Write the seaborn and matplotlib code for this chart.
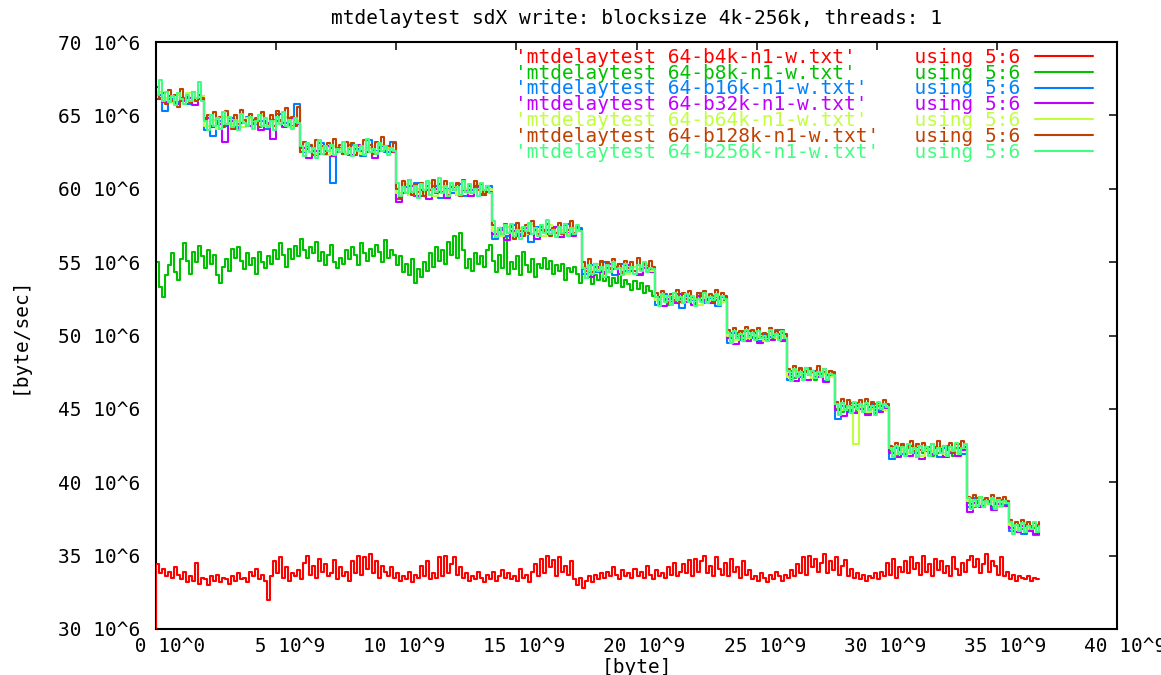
import numpy as np
import pandas as pd
import matplotlib
matplotlib.use("Agg")
import matplotlib.pyplot as plt
from matplotlib.ticker import FixedLocator, FuncFormatter
from matplotlib.transforms import ScaledTranslation
import seaborn as sns

# Throughput samples in units of 1e6 byte/sec against bytes written.
files = [
    "mtdelaytest 64-b4k-n1-w.txt",
    "mtdelaytest 64-b8k-n1-w.txt",
    "mtdelaytest 64-b16k-n1-w.txt",
    "mtdelaytest 64-b32k-n1-w.txt",
    "mtdelaytest 64-b64k-n1-w.txt",
    "mtdelaytest 64-b128k-n1-w.txt",
    "mtdelaytest 64-b256k-n1-w.txt",
]
colors = ["#ff0000", "#00c000", "#0080ff", "#c000ff", "#c0ff40", "#c04000", "#40ff80"]
# bytes between two samples of each file
sample_step = [0.125e9, 0.125e9, 0.25e9, 0.25e9, 0.25e9, 0.125e9, 0.125e9]

b4k = [
    29.0, 34.4, 33.8, 34.1, 33.6, 33.9, 33.5, 34.2, 33.7, 33.4,
    33.9, 33.2, 33.6, 33.3, 34.5, 33.1, 33.5, 33.4, 33.0, 33.6,
    33.3, 33.7, 33.2, 33.5, 33.4, 33.1, 33.6, 33.3, 33.8, 33.4,
    33.5, 33.2, 33.9, 33.6, 34.1, 33.4, 33.7, 33.3, 32.0, 33.6,
    34.6, 33.8, 34.9, 33.5, 34.2, 33.3, 33.8, 33.6, 34.0, 33.4,
    34.5, 35.0, 33.7, 34.3, 33.5, 34.8, 33.9, 34.4, 33.6, 33.8,
    34.7, 33.4, 34.2, 33.6, 33.9, 33.3, 34.6, 33.8, 35.0, 33.7,
    34.9, 34.1, 35.1, 33.8, 34.6, 33.5, 34.3, 33.9, 33.6, 34.2,
    33.5, 33.8, 33.3, 33.6, 33.4, 33.9, 33.2, 33.7, 33.5, 34.3,
    33.6, 34.6, 33.4, 33.8, 33.5, 34.9, 33.6, 35.0, 33.8, 34.4,
    34.9, 33.7, 34.2, 33.5, 33.8, 33.3, 33.6, 33.4, 33.9, 33.5,
    33.2, 33.7, 33.4, 33.9, 33.3, 33.6, 34.0, 33.5, 33.8, 33.4,
    33.6, 33.3, 34.1, 33.5, 33.7, 33.2, 33.9, 34.4, 33.6, 34.8,
    33.8, 35.0, 34.2, 34.7, 33.6, 34.9, 33.9, 34.3, 33.7, 34.6,
    33.4, 33.0, 33.5, 32.8, 33.3, 33.6, 33.2, 33.7, 33.4, 33.8,
    33.5, 33.9, 33.6, 34.2, 33.7, 33.4, 34.0, 33.6, 33.8, 33.5,
    34.1, 33.6, 33.9, 33.5, 34.3, 33.7, 33.4, 34.0, 33.6, 33.8,
    33.5, 34.2, 33.7, 34.5, 33.6, 33.9, 34.4, 33.8, 34.7, 33.6,
    34.8, 33.9, 34.6, 35.0, 33.8, 34.3, 33.6, 34.9, 34.1, 33.7,
    34.5, 33.6, 34.8, 33.9, 34.2, 33.5, 34.6, 33.7, 34.0, 33.4,
    33.6, 33.3, 33.8, 33.5, 33.2, 33.7, 33.4, 33.9, 33.6, 33.3,
    33.7, 33.5, 34.0, 33.6, 34.4, 33.8, 34.9, 33.7, 35.0, 34.2,
    34.8, 33.9, 34.5, 35.1, 33.8, 34.6, 34.0, 34.9, 33.7, 34.3,
    34.7, 33.6, 34.1, 33.5, 33.8, 33.4, 33.7, 33.3, 33.6, 33.5,
    33.8, 33.4, 33.9, 33.6, 34.5, 33.7, 34.8, 33.5, 34.2, 33.9,
    34.6, 33.8, 34.9, 34.1, 34.5, 33.7, 35.0, 33.9, 34.4, 33.6,
    34.8, 34.0, 34.6, 33.8, 34.3, 33.6, 34.9, 34.1, 33.7, 34.5,
    33.9, 34.7, 35.0, 34.2, 34.8, 33.8, 34.4, 35.1, 33.9, 34.6,
    34.3, 33.7, 34.9, 33.6, 33.9, 33.4, 33.7, 33.3, 33.6, 33.5,
    33.4, 33.6, 33.3, 33.5, 33.4,
]

b8k = [
    55.0, 53.3, 52.6, 54.1, 54.8, 55.6, 54.3, 53.8, 55.2, 56.3,
    55.1, 54.2, 55.7, 55.0, 56.1, 55.4, 54.6, 55.8, 54.9, 55.5,
    54.1, 53.6, 54.7, 55.2, 54.4, 55.9, 55.3, 56.0, 55.1, 54.5,
    55.6, 54.8, 55.3, 54.2, 55.7, 55.0, 54.6, 55.4, 54.9, 55.8,
    55.2, 56.3, 55.5, 54.7, 55.9, 55.2, 56.1, 55.4, 56.6, 55.8,
    55.3, 56.0, 55.6, 56.4, 55.1, 55.7, 54.8, 55.5, 56.2, 55.0,
    54.6, 55.3, 54.9, 55.8, 55.2, 56.0, 55.5, 54.8, 56.3, 55.6,
    55.1, 55.9, 55.4, 56.2, 55.7, 55.0, 56.5, 55.3, 55.8, 55.5,
    54.8, 55.4, 54.3, 54.9, 54.1, 55.2, 53.6, 54.5, 54.0, 55.0,
    54.4, 55.6, 54.7, 56.0, 55.1, 55.8, 54.9, 56.4, 55.5, 56.8,
    55.3, 57.0, 55.8, 54.6, 55.2, 54.4, 55.6, 54.9, 55.4, 54.7,
    55.8, 56.2, 55.1, 54.3, 55.5, 54.6, 56.7, 54.2, 55.0, 54.5,
    55.4, 54.1, 55.7, 54.8, 54.3, 55.2, 54.0, 54.9, 54.6, 55.3,
    54.5, 55.1, 54.2, 54.8, 54.4, 54.9, 53.8, 54.6, 54.3, 54.7,
    54.2, 53.6, 54.5, 53.9, 54.3, 53.5, 54.1, 53.8, 54.4, 53.7,
    54.0, 53.4, 53.9, 53.6, 54.2, 53.3, 53.8, 53.5, 53.1, 53.7,
    53.2, 53.6, 52.9, 53.4, 53.0, 52.7,
    52.6, 52.2, 52.7, 52.4, 52.1, 52.6, 52.3, 52.8, 52.5, 52.2, 52.7, 52.4,
    52.6, 52.1, 52.5, 52.8, 52.3, 52.6, 52.2, 52.7, 52.4, 52.5, 52.3, 52.6,
    49.9, 50.2, 49.7, 50.1, 49.8, 50.3, 49.6, 50.0, 49.9, 50.2,
    49.8, 50.1, 49.7, 50.0, 50.3, 49.8, 50.1, 49.9, 50.2, 49.8,
    47.3, 47.6, 47.1, 47.4, 47.7, 47.2, 47.5, 47.3,
    47.6, 47.0, 47.4, 47.2, 47.5, 47.3, 47.6, 47.2,
    45.0, 45.3, 44.8, 45.2, 44.9, 45.4, 45.1, 44.8, 45.2,
    45.0, 45.3, 44.9, 45.1, 44.7, 45.2, 45.0, 45.3, 45.1,
    42.1, 42.4, 41.8, 42.2, 42.5, 41.9, 42.3, 42.0, 42.4, 41.7, 42.2, 42.0, 42.3,
    42.1, 41.8, 42.4, 42.0, 42.2, 41.9, 42.5, 42.1, 41.8, 42.3, 42.0, 42.2, 42.4,
    38.6, 38.9, 38.3, 38.7, 38.4, 38.8, 38.5,
    38.7, 38.3, 38.6, 38.9, 38.4, 38.7, 38.5,
    36.9, 37.1, 36.6, 37.0, 36.8, 37.2, 36.7, 37.0, 36.9, 37.1, 36.8,
]

b16k = [
    66.4, 65.3, 66.1, 65.9, 66.2, 65.8, 66.0, 66.3,
    64.0, 63.6, 64.6, 64.3, 64.8, 64.2, 64.5, 64.9, 64.4, 64.6, 64.1, 64.7, 65.1, 64.5, 64.3, 65.8,
    62.5, 62.9, 62.3, 63.1, 62.6, 60.4, 62.8, 62.4, 63.0, 62.7, 62.2, 63.3, 62.6, 62.9, 62.5, 63.2,
    59.3, 60.1, 59.6, 60.4, 59.5, 59.9, 60.2, 59.4, 60.0, 59.7, 60.3, 59.5, 59.9, 60.1, 59.6, 60.2,
    56.6, 57.3, 56.8, 57.5, 56.9, 57.1, 56.4, 57.4, 56.8, 57.2, 57.0, 56.7, 57.6, 56.9, 57.3,
    54.2, 54.8, 54.3, 55.0, 54.6, 54.1, 54.9, 54.4, 54.7, 54.2, 54.8, 54.5,
    52.1, 52.8, 52.3, 52.6, 51.9, 52.7, 52.4, 52.9, 52.2, 52.5, 52.0, 52.6,
    49.5, 50.2, 49.7, 50.3, 49.8, 49.6, 50.1, 49.9, 50.4, 49.7,
    47.0, 47.6, 47.2, 47.8, 47.1, 47.5, 46.9, 47.4,
    44.3, 45.2, 44.8, 45.4, 45.0, 44.7, 45.3, 44.9, 45.1,
    41.6, 42.3, 41.9, 42.5, 42.0, 41.8, 42.4, 42.1, 41.7, 42.3, 42.0, 42.6, 41.9,
    38.3, 38.9, 38.4, 38.7, 38.2, 38.8, 38.5,
    36.7, 37.1, 36.5, 37.0, 36.4, 36.9,
]

b32k = [
    66.1, 65.9, 66.3, 65.8, 66.0, 66.2, 65.7, 66.1,
    64.8, 64.2, 64.4, 63.2, 64.6, 64.1, 64.5, 64.3, 64.7, 64.0, 64.5, 63.4, 64.6, 64.2, 64.8, 64.4,
    62.8, 62.1, 62.6, 62.4, 62.9, 62.2, 62.7, 62.5, 62.3, 63.0, 62.4, 62.8, 62.1, 62.6, 62.9, 62.5,
    59.1, 59.7, 60.2, 59.5, 59.9, 59.3, 60.0, 59.8, 59.4, 60.1, 59.6, 59.9, 59.5, 60.2, 59.7, 59.8,
    56.9, 57.2, 56.5, 57.1, 56.8, 57.3, 56.9, 56.6, 57.2, 56.9, 57.4, 56.7, 57.0, 56.8, 57.1,
    54.6, 54.0, 54.7, 54.3, 54.9, 54.5, 54.2, 54.8, 54.4, 54.1, 54.6, 54.3,
    52.6, 52.0, 52.5, 52.2, 52.8, 52.3, 52.1, 52.7, 52.4, 52.2, 52.6, 52.3,
    49.8, 49.4, 50.0, 49.6, 50.2, 49.5, 49.9, 49.7, 50.1, 49.6,
    47.4, 46.9, 47.5, 47.0, 47.6, 47.2, 46.8, 47.3,
    44.9, 44.5, 45.2, 44.7, 45.0, 44.6, 45.1, 44.8, 45.0,
    42.0, 41.7, 42.2, 41.8, 42.4, 41.6, 42.1, 41.9, 42.3, 41.7, 42.0, 41.8, 42.2,
    38.0, 38.6, 38.3, 38.7, 38.1, 38.5, 38.4,
    36.9, 36.6, 37.0, 36.7, 36.5, 36.8,
]

b64k = [
    66.6, 66.2, 65.9, 66.4, 66.1, 66.5, 66.0, 66.3,
    64.3, 64.7, 64.1, 64.9, 64.4, 64.6, 64.2, 64.8, 64.5, 65.0, 64.3, 64.6, 64.4, 64.9, 64.2, 64.6,
    62.6, 63.0, 62.4, 62.8, 62.3, 62.9, 62.7, 62.5, 63.1, 62.6, 62.4, 62.8, 62.5, 63.0, 62.7, 62.6,
    59.7, 60.3, 59.6, 60.0, 59.8, 60.4, 59.5, 60.1, 59.9, 60.2, 59.6, 60.0, 59.7, 60.3, 59.8, 60.0,
    57.1, 56.8, 57.4, 57.0, 57.3, 56.9, 57.6, 57.1, 56.8, 57.5, 57.0, 57.2, 56.9, 57.3, 57.1,
    54.7, 54.4, 54.9, 54.5, 54.3, 54.8, 54.6, 54.2, 54.7, 54.5, 54.9, 54.4,
    52.4, 52.7, 52.2, 52.6, 52.3, 52.8, 52.5, 52.1, 52.6, 52.4, 52.7, 52.3,
    50.0, 49.7, 50.2, 49.8, 50.3, 49.9, 49.6, 50.1, 49.8, 50.0,
    47.2, 47.6, 47.3, 47.7, 47.1, 47.5, 47.4, 47.2,
    45.3, 44.9, 45.1, 42.6, 45.2, 44.8, 45.0, 45.3, 44.9,
    42.3, 41.9, 42.2, 42.0, 42.5, 41.8, 42.2, 42.1, 42.4, 41.9, 42.2, 42.0, 42.3,
    38.7, 38.4, 38.9, 38.5, 38.8, 38.3, 38.6,
    37.1, 36.8, 37.2, 36.9, 37.0, 36.8,
]

b128k = [
    66.9, 66.2, 66.5, 65.8, 66.7, 66.0, 66.4, 65.6, 66.8, 66.1, 66.3, 65.9, 66.6, 66.0, 66.4, 66.2,
    64.7, 65.0, 64.3, 65.2, 64.5, 64.9, 64.2, 65.3, 64.6, 64.1, 65.0, 64.4, 65.4, 64.7, 64.3, 65.1,
    64.5, 64.8, 64.2, 65.2, 64.6, 64.4, 65.0, 64.3, 65.3, 64.7, 64.5, 65.5, 64.4, 64.9, 64.3, 65.6,
    62.5, 63.2, 62.7, 63.0, 62.3, 63.3, 62.6, 62.9, 62.4, 63.1, 62.8, 63.4, 62.5, 63.0, 62.4, 63.2,
    62.7, 63.1, 62.3, 62.9, 62.6, 63.3, 62.5, 63.0, 62.4, 63.2, 62.8, 63.5, 62.6, 62.9, 62.5, 63.1,
    60.0, 59.4, 60.5, 59.7, 60.6, 59.6, 60.3, 59.8, 60.4, 59.5, 60.2, 59.9, 60.6, 59.7, 60.3, 59.8,
    60.5, 59.6, 60.1, 59.9, 60.4, 59.5, 60.6, 59.8, 60.2, 59.7, 60.5, 59.9, 60.3, 59.6, 60.1, 59.8,
    57.5, 56.7, 57.3, 56.9, 57.6, 57.0, 57.4, 56.6, 57.7, 57.1, 56.8, 57.5, 57.0, 57.8, 57.2, 56.9,
    57.4, 57.1, 57.6, 56.8, 57.3, 57.0, 57.7, 56.9, 57.5, 57.2, 57.8, 57.0, 57.4, 57.2,
    55.0, 54.4, 55.2, 54.3, 54.9, 54.6, 55.1, 54.2, 55.0, 54.5, 55.2, 54.7, 54.9, 54.3, 55.1, 54.6,
    55.0, 54.4, 55.3, 54.5, 54.9, 54.6, 55.1, 54.7,
    52.9, 52.3, 53.0, 52.5, 52.2, 52.8, 52.4, 53.1, 52.3, 52.9, 52.5, 53.0, 52.6, 52.2, 52.9, 52.4,
    53.0, 52.5, 52.8, 52.3, 53.1, 52.6, 52.9, 52.7,
    50.4, 49.8, 50.5, 49.9, 50.3, 49.7, 50.6, 50.0, 50.4, 49.8, 50.5, 49.9, 50.2, 49.7, 50.5, 50.0,
    50.3, 49.8, 50.4, 50.1,
    47.7, 47.2, 47.9, 47.4, 47.8, 47.3, 47.6, 47.7, 47.5, 47.2, 47.9, 47.4, 47.7, 47.3, 47.6, 47.5,
    45.5, 45.0, 45.7, 45.1, 45.6, 44.9, 45.4, 45.2, 45.6, 45.0, 45.7, 45.1, 45.5, 44.9, 45.4, 45.2,
    45.6, 45.3,
    42.5, 42.0, 42.7, 42.2, 42.6, 41.9, 42.4, 42.8, 42.1, 42.6, 42.2, 42.7, 42.4, 42.0, 42.6, 42.3,
    42.8, 42.1, 42.5, 42.2, 42.7, 42.0, 42.6, 42.3, 42.8, 42.4,
    39.0, 38.5, 39.1, 38.6, 39.0, 38.4, 38.9, 38.6, 39.1, 38.5, 38.9, 38.4, 39.0, 38.7,
    37.4, 36.9, 37.3, 37.0, 37.4, 37.1, 37.3, 36.9, 37.2, 37.0, 37.3,
]

b256k = [
    66.4, 67.4, 66.0, 66.6, 65.9, 66.3, 65.7, 66.5, 66.1, 65.8, 66.4, 66.0, 66.6, 66.2, 67.3, 66.0,
    64.6, 64.0, 65.0, 64.3, 64.8, 64.1, 65.2, 64.4, 64.9, 64.2, 64.7, 64.0, 65.1, 64.5, 64.3, 64.9,
    64.1, 64.6, 65.0, 64.3, 64.8, 64.2, 64.6, 64.0, 64.9, 64.4, 65.2, 64.3, 64.7, 64.1, 64.8, 64.5,
    62.9, 62.2, 63.1, 62.5, 62.8, 62.1, 63.3, 62.4, 62.9, 62.6, 63.0, 62.3, 62.7, 62.5, 63.2, 62.4,
    62.8, 62.2, 63.0, 62.6, 62.9, 62.3, 63.4, 62.5, 62.7, 62.4, 63.1, 62.6, 62.9, 62.3, 62.8, 62.6,
    60.4, 59.5, 60.1, 59.7, 60.6, 59.8, 60.2, 59.4, 60.3, 59.9, 60.5, 59.6, 60.0, 59.8, 60.7, 59.7,
    60.2, 59.5, 60.4, 59.9, 60.1, 59.6, 60.5, 59.8, 60.3, 59.7, 60.0, 59.5, 60.4, 59.9, 60.2, 59.7,
    57.8, 56.7, 57.3, 56.9, 57.5, 57.0, 57.6, 56.8, 57.2, 56.6, 57.4, 57.1, 57.7, 56.9, 57.3, 56.8,
    57.5, 57.0, 57.9, 56.9, 57.2, 56.7, 57.4, 57.0, 57.6, 56.8, 57.3, 56.9, 57.5, 57.1,
    54.6, 53.9, 54.8, 54.2, 54.9, 54.4, 54.7, 54.0, 54.8, 54.3, 55.0, 54.5, 54.6, 54.1, 54.9, 54.3,
    54.7, 54.2, 54.8, 54.4, 55.0, 54.3, 54.6, 54.5,
    52.6, 52.0, 52.8, 52.3, 52.7, 52.1, 52.9, 52.4, 52.6, 52.2, 52.8, 52.3, 52.7, 52.0, 52.5, 52.3,
    52.9, 52.2, 52.6, 52.4, 52.8, 52.1, 52.7, 52.5,
    50.2, 49.5, 50.3, 49.8, 50.1, 49.6, 50.4, 49.9, 50.2, 49.7, 50.3, 49.8, 50.0, 49.6, 50.4, 49.9,
    50.1, 49.7, 50.3, 49.8,
    47.6, 46.9, 47.7, 47.2, 47.5, 47.0, 47.8, 47.3, 47.6, 47.1, 47.5, 47.2, 47.7, 47.0, 47.4, 47.3,
    45.3, 44.6, 45.4, 44.9, 45.2, 44.7, 45.5, 45.0, 45.3, 44.8, 45.4, 44.9, 45.2, 44.6, 45.5, 45.0,
    45.3, 45.1,
    42.3, 41.7, 42.5, 41.9, 42.4, 41.8, 42.6, 42.0, 42.3, 41.7, 42.5, 42.1, 42.4, 41.8, 42.6, 41.9,
    42.3, 42.0, 42.5, 41.8, 42.4, 42.1, 42.7, 41.9, 42.3, 42.6,
    38.9, 38.2, 38.8, 38.4, 39.0, 38.3, 38.7, 38.5, 38.9, 38.2, 38.8, 38.4, 38.7, 38.6,
    37.3, 36.5, 37.1, 36.7, 37.2, 36.6, 37.0, 36.8, 37.3, 36.6, 37.0,
]

series = [b4k, b8k, b16k, b32k, b64k, b128k, b256k]

x_ticks = [0, 5, 10, 15, 20, 25, 30, 35, 40]          # 1e9 byte
y_ticks = [30, 35, 40, 45, 50, 55, 60, 65, 70]          # 1e6 byte/sec

title = "mtdelaytest sdX write: blocksize 4k-256k, threads: 1"
x_label = "[byte]"
y_label = "[byte/sec]"

# ---- long table for seaborn
frames = []
for name, vals, step in zip(files, series, sample_step):
    vals = np.asarray(vals, dtype=float)
    frames.append(pd.DataFrame({
        "bytes": np.arange(len(vals)) * step,
        "rate": vals * 1e6,
        "file": name,
    }))
data = pd.concat(frames, ignore_index=True)

sns.set_theme(style="white")
MONO = "DejaVu Sans Mono"
plt.rcParams["font.family"] = [MONO, "DejaVu Sans"]
plt.rcParams["text.color"] = "black"

W, H = 1161, 675
fig = plt.figure(figsize=(W / 100, H / 100), dpi=100)
fig.patch.set_facecolor("white")
L, R, T, B = 156, 1117, 42, 629
ax = fig.add_axes([L / W, 1 - B / H, (R - L) / W, (B - T) / H])
ax.set_facecolor("white")

for i, (name, col) in enumerate(zip(files, colors)):
    sub = data[data["file"] == name]
    sns.lineplot(data=sub, x="bytes", y="rate", color=col, linewidth=1.5,
                 drawstyle="steps-pre" if i == 0 else "steps-post",
                 estimator=None, sort=False, legend=False, ax=ax)

# the first file starts at the left border; keep its rise visible over the frame
ax.get_lines()[0].set_zorder(3)

ax.set_xlim(0, 40e9)
ax.set_ylim(30e6, 70e6)

ax.xaxis.set_major_locator(FixedLocator([v * 1e9 for v in x_ticks]))
ax.yaxis.set_major_locator(FixedLocator([v * 1e6 for v in y_ticks]))


def fmt_x(v, pos):
    if v == 0:
        return " 0 10^0"
    return f"{v / 1e9:2.0f} 10^9"


def fmt_y(v, pos):
    return f"{v / 1e6:.0f} 10^6"


ax.xaxis.set_major_formatter(FuncFormatter(fmt_x))
ax.yaxis.set_major_formatter(FuncFormatter(fmt_y))

FS = 14
ax.tick_params(axis="both", which="major", direction="in", length=6, width=1.1,
               color="black", top=True, right=True, labelsize=FS, labelcolor="black")
ax.tick_params(axis="x", pad=6)
ax.tick_params(axis="y", pad=11)
for lab in ax.get_xticklabels():
    lab.set_transform(lab.get_transform() + ScaledTranslation(8 / 100, 0, fig.dpi_scale_trans))

for sp in ax.spines.values():
    sp.set_visible(True)
    sp.set_color("black")
    sp.set_linewidth(1.5)

ax.set_title(title, fontsize=FS, pad=13, color="black")
ax.set_xlabel(x_label, fontsize=FS, color="black")
ax.set_ylabel(y_label, fontsize=FS, color="black")
ax.xaxis.set_label_coords(0.5, -0.05)
ax.yaxis.set_label_coords(-0.133, 0.5)

handles = ax.get_lines()[:len(files)]
labels = [f"{chr(39) + n + chr(39):<31}   using 5:6" for n in files]
leg = ax.legend(handles, labels, loc="upper right", bbox_to_anchor=(0.975, 0.99),
                frameon=False, markerfirst=False, handlelength=3.0, handletextpad=0.75,
                labelspacing=-0.165, borderpad=0, borderaxespad=0, labelcolor="linecolor",
                prop={"family": MONO, "size": FS})

fig.savefig("out.png", dpi=100, facecolor="white")
